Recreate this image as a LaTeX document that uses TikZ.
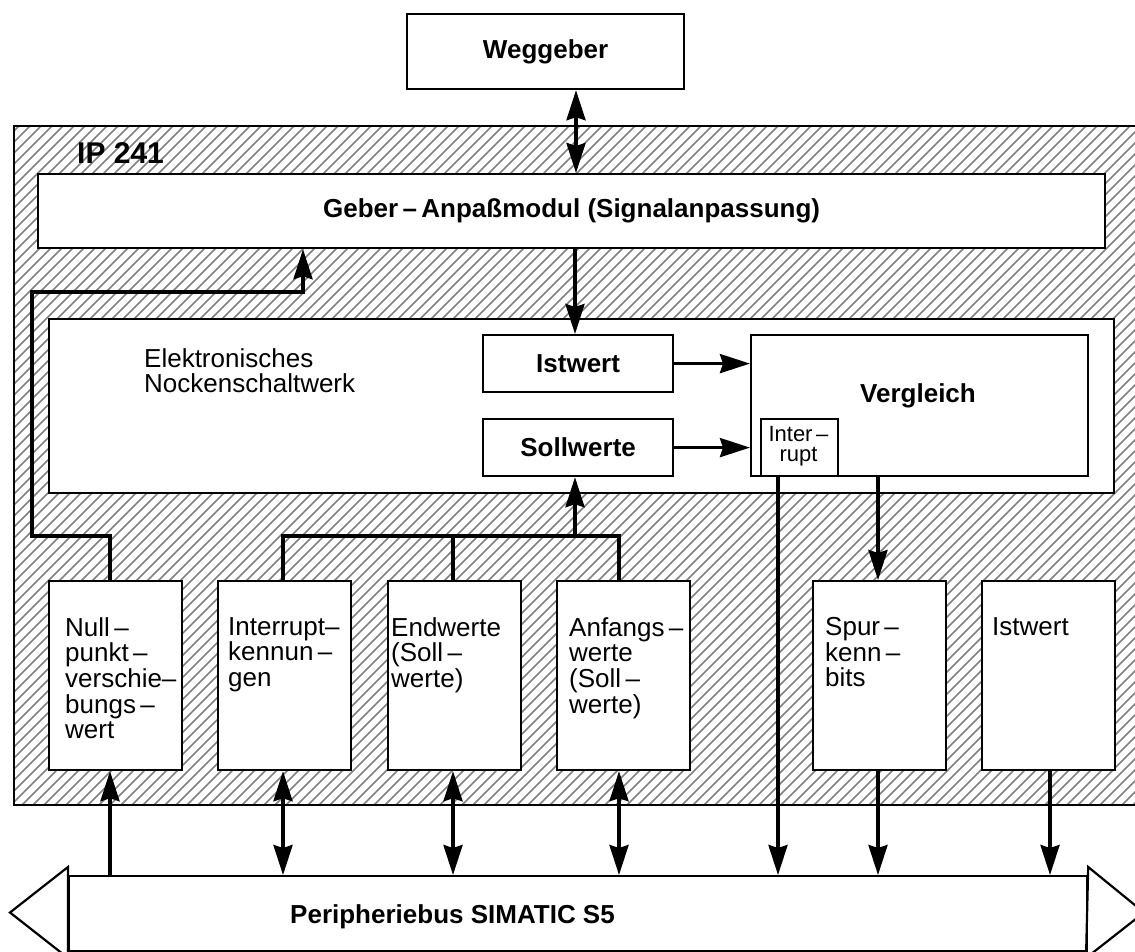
\documentclass[tikz,border=0pt]{standalone}
\usepackage{fontspec}
\setmainfont{Liberation Sans}
\usetikzlibrary{arrows.meta}
\begin{document}
\begin{tikzpicture}[x=1pt,y=-1pt,
  box/.style={draw,line width=2.2pt,fill=white,inner sep=0pt,anchor=north west},
  boldlbl/.style={font=\fontsize{26}{26}\selectfont\bfseries},
  reglbl/.style={font=\fontsize{26}{25.7}\selectfont,align=left,inner sep=0pt,anchor=north west},
  conn/.style={line width=3.5pt},
  tip/.tip={Stealth[length=30pt,width=19pt,inset=3pt]},
  hatchline/.style={draw=black!50,line width=1.7pt}]
\useasboundingbox (0,0) rectangle (1135,951);

% hatched module area
\begin{scope}
  \clip (14,126) rectangle (1140,805);
  \foreach \i in {-65,...,106}
    \draw[hatchline] (\i*11,805) -- (\i*11+679,126);
\end{scope}
\draw[line width=2.2pt] (14,126) rectangle (1140,805);
\node[anchor=base west,inner sep=0pt,font=\fontsize{30}{30}\selectfont\bfseries] (ip) at (77,163) {IP 241};

% blocks
\node[box,minimum width=277pt,minimum height=75pt,boldlbl] (weg) at (406,13) {Weggeber};
\node[box,minimum width=1067pt,minimum height=74pt,boldlbl] (geber) at (37,173) {Geber\,–\,Anpaßmodul (Signalanpassung)};
\node[box,minimum width=1065pt,minimum height=174pt] (nock) at (48,318) {};
\node[reglbl] (nocktxt) at (144,348) {Elektronisches\\Nockenschaltwerk};
\node[box,minimum width=190pt,minimum height=57pt,boldlbl] (ist) at (482,334) {Istwert};
\node[box,minimum width=190pt,minimum height=57pt,boldlbl] (soll) at (482,418) {Sollwerte};
\node[box,minimum width=337pt,minimum height=141pt] (verg) at (750,334) {};
\node[anchor=base,inner sep=0pt,boldlbl] (vergtxt) at (918,402) {Vergleich};
\node[box,minimum width=77pt,minimum height=57pt] (intr) at (760,418) {};
\node[align=center,inner sep=0pt,font=\fontsize{22}{20}\selectfont] (intrtxt) at (798.5,446) {Inter\,–\\rupt};

% register blocks
\foreach \n/\x in {nul/48,intk/217,endw/387,anfw/556,spur/812,istw/981}
  \node[box,minimum width=133pt,minimum height=189pt] (\n) at (\x,580) {};
\node[reglbl] at (65,617) {Null\,–\\punkt\,–\\verschie–\\bungs\,–\\wert};
\node[reglbl] at (228,617) {Interrupt–\\kennun\,–\\gen};
\node[reglbl] at (391,617) {Endwerte\\(Soll\,–\\werte)};
\node[reglbl] at (569,617) {Anfangs\,–\\werte\\(Soll\,–\\werte)};
\node[reglbl] at (825,617) {Spur\,–\\kenn\,–\\bits};
\node[reglbl] at (992,617) {Istwert};

% peripheral bus
\node[box,minimum width=1018pt,minimum height=75pt] (bus) at (68,875) {};
\node[anchor=base west,inner sep=0pt,boldlbl] (bustxt) at (290,923) {Peripheriebus SIMATIC S5};
\draw[line width=2.2pt,line join=miter] (bus.north west) ++(0,-8) -- (10,912.5) -- (68,958) -- cycle;
\draw[line width=2.2pt,line join=miter] (bus.north east) ++(0,-8) -- (1144,912.5) -- (1086,958) -- cycle;

% connector positions
\coordinate (xa) at (576,0);
\coordinate (xb) at (575,0);
\coordinate (xf) at (303,0);
\coordinate (xn) at (110,0);
\coordinate (fb) at (32,292);
\coordinate (gy) at (0,536);
\coordinate (g1) at (283,0);
\coordinate (g2) at (453,0);
\coordinate (g3) at (619,0);
\coordinate (xi) at (778,0);
\coordinate (xs) at (878,0);
\coordinate (xw) at (1050,0);

% connectors
\draw[conn,tip-tip] (xa |- weg.south) -- (xa |- geber.north);
\draw[conn,-tip] (xb |- geber.south) -- (xb |- ist.north);
\draw[conn,-tip] (xn |- nul.north) -- (xn |- gy) -- (fb |- gy) -- (fb) -- (xf |- fb) -- (xf |- geber.south);
\draw[conn,-tip] (ist.east) -- (ist.east -| verg.west);
\draw[conn,-tip] (soll.east) -- (soll.east -| verg.west);
\draw[conn] (g1 |- intk.north) -- (g1 |- gy) -- (g3 |- gy) -- (g3 |- anfw.north);
\draw[conn] (g2 |- gy) -- (g2 |- endw.north);
\draw[conn,-tip] (xb |- gy) -- (xb |- soll.south);
\draw[conn,-tip] (xs |- verg.south) -- (xs |- spur.north);
\draw[conn,-tip] (xi |- intr.south) -- (xi |- bus.north);
\draw[conn,-tip] (xn |- bus.north) -- (xn |- nul.south);
\draw[conn,tip-tip] (g1 |- intk.south) -- (g1 |- bus.north);
\draw[conn,tip-tip] (g2 |- endw.south) -- (g2 |- bus.north);
\draw[conn,tip-tip] (g3 |- anfw.south) -- (g3 |- bus.north);
\draw[conn,-tip] (xs |- spur.south) -- (xs |- bus.north);
\draw[conn,-tip] (xw |- istw.south) -- (xw |- bus.north);
\end{tikzpicture}
\end{document}
